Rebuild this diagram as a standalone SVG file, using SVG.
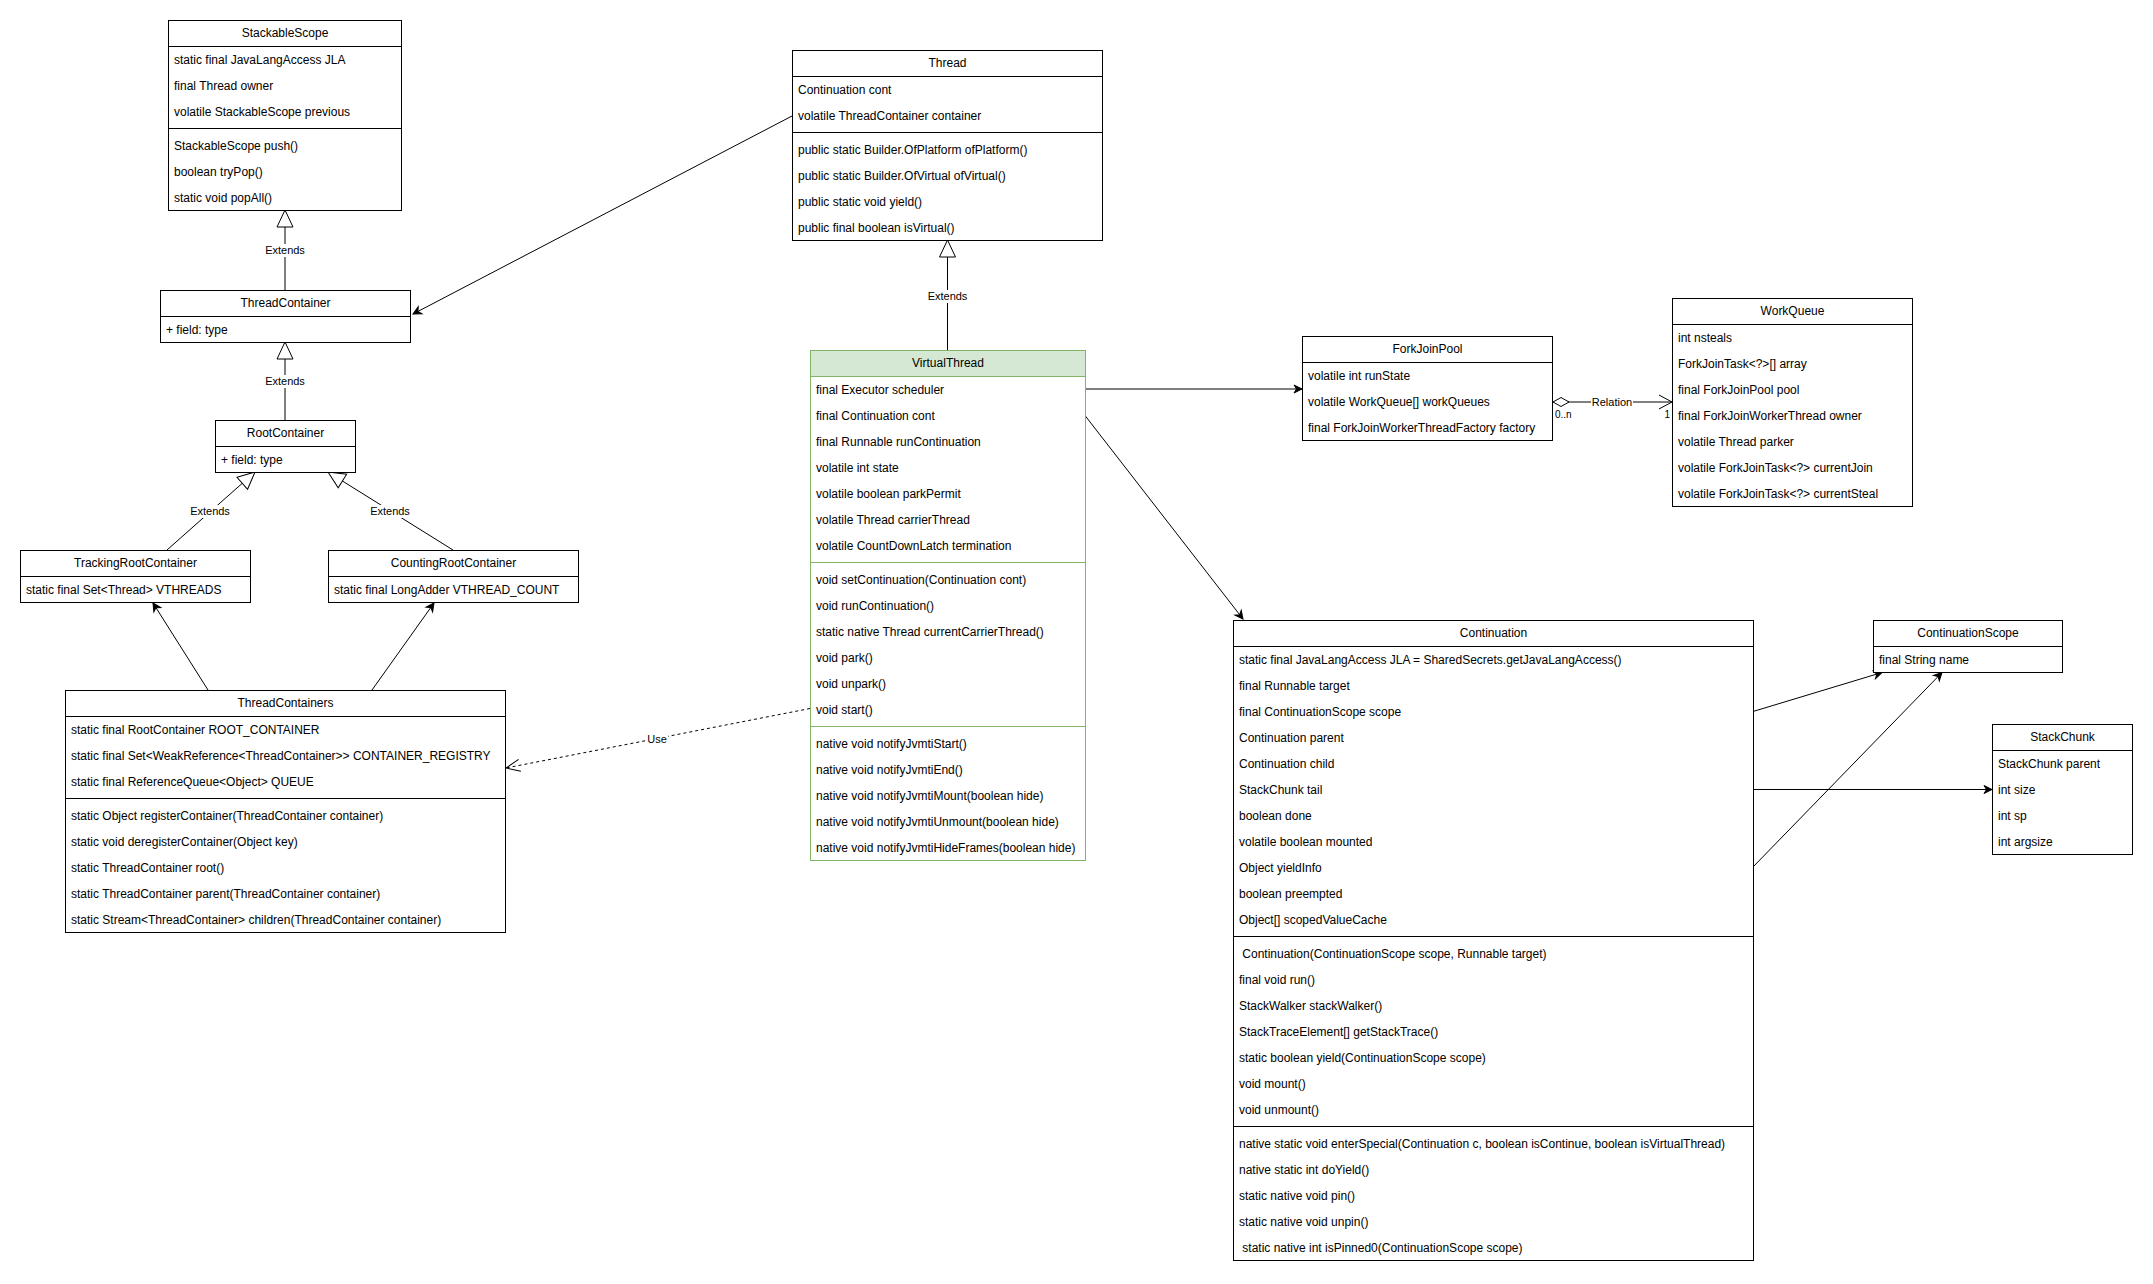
<svg xmlns="http://www.w3.org/2000/svg" width="2153" height="1284" viewBox="0 0 2153 1284">
<style>
text{font-family:"Liberation Sans",Arial,Helvetica,sans-serif;font-size:12px;fill:#000}
.c{text-anchor:middle}
.e{text-anchor:end}
.box{fill:#fff;stroke:#000;stroke-width:1}
.sep{stroke:#000;stroke-width:1}
.vbox{fill:#fff;stroke:#82b366;stroke-width:1}
.vhdr{fill:#d5e8d4;stroke:#82b366;stroke-width:1}
.vsep{stroke:#82b366;stroke-width:1}
.ln{fill:none;stroke:#000;stroke-width:1}
.dash{stroke-dasharray:3 3}
.lbl{font-size:11px;text-anchor:middle}
.mult{font-size:10px}
.bg{fill:#fff;stroke:none}
</style>
<defs>
<marker id="tri" markerUnits="userSpaceOnUse" orient="auto" viewBox="-19 -10 21 20" markerWidth="21" markerHeight="20" refX="0" refY="0"><path d="M0,0 L-17,-8 L-17,8 Z" fill="#fff" stroke="#000" stroke-width="1"/></marker>
<marker id="arr" markerUnits="userSpaceOnUse" orient="auto" viewBox="-10 -6 12 12" markerWidth="12" markerHeight="12" refX="0" refY="0"><path d="M0,0 L-8,-4 L-5.5,0 L-8,4 Z" fill="#000" stroke="#000" stroke-width="1"/></marker>
<marker id="open" markerUnits="userSpaceOnUse" orient="auto" viewBox="-16 -9 18 18" markerWidth="18" markerHeight="18" refX="0" refY="0"><path d="M-14,-6 L0,0 L-14,6" fill="none" stroke="#000" stroke-width="1"/></marker>
<marker id="open2" markerUnits="userSpaceOnUse" orient="auto" viewBox="-16 -9 18 18" markerWidth="18" markerHeight="18" refX="0" refY="0"><path d="M-13,-7 L0,0 L-13,7" fill="none" stroke="#000" stroke-width="1"/></marker>
<marker id="dia" markerUnits="userSpaceOnUse" orient="auto" viewBox="-2 -7 20 14" markerWidth="20" markerHeight="14" refX="0" refY="0"><path d="M0,0 L8,-4.5 L16,0 L8,4.5 Z" fill="#fff" stroke="#000" stroke-width="1"/></marker>
</defs>

<g id="connectors">
<path class="ln" d="M285,290 L285,210" marker-end="url(#tri)"/>
<rect class="bg" x="265" y="244" width="40" height="13"/>
<text class="lbl" x="285" y="254">Extends</text>
<path class="ln" d="M285,420 L285,342" marker-end="url(#tri)"/>
<rect class="bg" x="265" y="375" width="40" height="13"/>
<text class="lbl" x="285" y="385">Extends</text>
<path class="ln" d="M167,550 L255,472" marker-end="url(#tri)"/>
<rect class="bg" x="190" y="505" width="40" height="13"/>
<text class="lbl" x="210" y="515">Extends</text>
<path class="ln" d="M453,550 L328,472" marker-end="url(#tri)"/>
<rect class="bg" x="370" y="505" width="40" height="13"/>
<text class="lbl" x="390" y="515">Extends</text>
<path class="ln" d="M208,690 L153,603" marker-end="url(#arr)"/>
<path class="ln" d="M372,690 L434,603" marker-end="url(#arr)"/>
<path class="ln" d="M792,116 L413,314" marker-end="url(#arr)"/>
<path class="ln" d="M947.5,350 L947.5,240" marker-end="url(#tri)"/>
<rect class="bg" x="927" y="290" width="41" height="13"/>
<text class="lbl" x="947.5" y="300">Extends</text>
<path class="ln" d="M1085,389 L1302,389" marker-end="url(#arr)"/>
<path class="ln" d="M1085,415.5 L1243,619" marker-end="url(#arr)"/>
<path class="ln dash" d="M810,708.5 L506,768" marker-end="url(#open)"/>
<rect class="bg" x="646" y="733" width="22" height="13"/>
<text class="lbl" x="657" y="743">Use</text>
<path class="ln" d="M1553,402 L1672,402" marker-start="url(#dia)" marker-end="url(#open2)"/>
<rect class="bg" x="1591" y="396" width="42" height="13"/>
<text class="lbl" x="1612" y="406">Relation</text>
<text class="mult" x="1555" y="418">0..n</text>
<text class="mult e" x="1670" y="418">1</text>
<path class="ln" d="M1753,711.5 L1882,672.5" marker-end="url(#arr)"/>
<path class="ln" d="M1753,789.5 L1992,789.5" marker-end="url(#arr)"/>
<path class="ln" d="M1753,867 L1942,672.5" marker-end="url(#arr)"/>
</g>

<g id="StackableScope">
<rect class="box" x="168.5" y="20.5" width="233" height="190"/>
<line class="sep" x1="168.5" y1="46.5" x2="401.5" y2="46.5"/>
<line class="sep" x1="168.5" y1="128.5" x2="401.5" y2="128.5"/>
<text class="c" x="285" y="37">StackableScope</text>
<text x="174" y="64">static final JavaLangAccess JLA</text>
<text x="174" y="90">final Thread owner</text>
<text x="174" y="116">volatile StackableScope previous</text>
<text x="174" y="150">StackableScope push()</text>
<text x="174" y="176">boolean tryPop()</text>
<text x="174" y="202">static void popAll()</text>
</g>

<g id="ThreadContainer">
<rect class="box" x="160.5" y="290.5" width="250" height="52"/>
<line class="sep" x1="160.5" y1="316.5" x2="410.5" y2="316.5"/>
<text class="c" x="285.5" y="307">ThreadContainer</text>
<text x="166" y="334">+ field: type</text>
</g>

<g id="RootContainer">
<rect class="box" x="215.5" y="420.5" width="140" height="52"/>
<line class="sep" x1="215.5" y1="446.5" x2="355.5" y2="446.5"/>
<text class="c" x="285.5" y="437">RootContainer</text>
<text x="221" y="464">+ field: type</text>
</g>

<g id="TrackingRootContainer">
<rect class="box" x="20.5" y="550.5" width="230" height="52"/>
<line class="sep" x1="20.5" y1="576.5" x2="250.5" y2="576.5"/>
<text class="c" x="135.5" y="567">TrackingRootContainer</text>
<text x="26" y="594">static final Set&lt;Thread&gt; VTHREADS</text>
</g>

<g id="CountingRootContainer">
<rect class="box" x="328.5" y="550.5" width="250" height="52"/>
<line class="sep" x1="328.5" y1="576.5" x2="578.5" y2="576.5"/>
<text class="c" x="453.5" y="567">CountingRootContainer</text>
<text x="334" y="594">static final LongAdder VTHREAD_COUNT</text>
</g>

<g id="ThreadContainers">
<rect class="box" x="65.5" y="690.5" width="440" height="242"/>
<line class="sep" x1="65.5" y1="716.5" x2="505.5" y2="716.5"/>
<line class="sep" x1="65.5" y1="798.5" x2="505.5" y2="798.5"/>
<text class="c" x="285.5" y="707">ThreadContainers</text>
<text x="71" y="734">static final RootContainer ROOT_CONTAINER</text>
<text x="71" y="760">static final Set&lt;WeakReference&lt;ThreadContainer&gt;&gt; CONTAINER_REGISTRY</text>
<text x="71" y="786">static final ReferenceQueue&lt;Object&gt; QUEUE</text>
<text x="71" y="820">static Object registerContainer(ThreadContainer container)</text>
<text x="71" y="846">static void deregisterContainer(Object key)</text>
<text x="71" y="872">static ThreadContainer root()</text>
<text x="71" y="898">static ThreadContainer parent(ThreadContainer container)</text>
<text x="71" y="924">static Stream&lt;ThreadContainer&gt; children(ThreadContainer container)</text>
</g>

<g id="Thread">
<rect class="box" x="792.5" y="50.5" width="310" height="190"/>
<line class="sep" x1="792.5" y1="76.5" x2="1102.5" y2="76.5"/>
<line class="sep" x1="792.5" y1="132.5" x2="1102.5" y2="132.5"/>
<text class="c" x="947.5" y="67">Thread</text>
<text x="798" y="94">Continuation cont</text>
<text x="798" y="120">volatile ThreadContainer container</text>
<text x="798" y="154">public static Builder.OfPlatform ofPlatform()</text>
<text x="798" y="180">public static Builder.OfVirtual ofVirtual()</text>
<text x="798" y="206">public static void yield()</text>
<text x="798" y="232">public final boolean isVirtual()</text>
</g>

<g id="VirtualThread">
<rect class="vbox" x="810.5" y="350.5" width="275" height="510"/>
<rect class="vhdr" x="810.5" y="350.5" width="275" height="26"/>
<line class="vsep" x1="810.5" y1="562.5" x2="1085.5" y2="562.5"/>
<line class="vsep" x1="810.5" y1="726.5" x2="1085.5" y2="726.5"/>
<text class="c" x="948" y="367">VirtualThread</text>
<text x="816" y="394">final Executor scheduler</text>
<text x="816" y="420">final Continuation cont</text>
<text x="816" y="446">final Runnable runContinuation</text>
<text x="816" y="472">volatile int state</text>
<text x="816" y="498">volatile boolean parkPermit</text>
<text x="816" y="524">volatile Thread carrierThread</text>
<text x="816" y="550">volatile CountDownLatch termination</text>
<text x="816" y="584">void setContinuation(Continuation cont)</text>
<text x="816" y="610">void runContinuation()</text>
<text x="816" y="636">static native Thread currentCarrierThread()</text>
<text x="816" y="662">void park()</text>
<text x="816" y="688">void unpark()</text>
<text x="816" y="714">void start()</text>
<text x="816" y="748">native void notifyJvmtiStart()</text>
<text x="816" y="774">native void notifyJvmtiEnd()</text>
<text x="816" y="800">native void notifyJvmtiMount(boolean hide)</text>
<text x="816" y="826">native void notifyJvmtiUnmount(boolean hide)</text>
<text x="816" y="852">native void notifyJvmtiHideFrames(boolean hide)</text>
</g>

<g id="ForkJoinPool">
<rect class="box" x="1302.5" y="336.5" width="250" height="104"/>
<line class="sep" x1="1302.5" y1="362.5" x2="1552.5" y2="362.5"/>
<text class="c" x="1427.5" y="353">ForkJoinPool</text>
<text x="1308" y="380">volatile int runState</text>
<text x="1308" y="406">volatile WorkQueue[] workQueues</text>
<text x="1308" y="432">final ForkJoinWorkerThreadFactory factory</text>
</g>

<g id="WorkQueue">
<rect class="box" x="1672.5" y="298.5" width="240" height="208"/>
<line class="sep" x1="1672.5" y1="324.5" x2="1912.5" y2="324.5"/>
<text class="c" x="1792.5" y="315">WorkQueue</text>
<text x="1678" y="342">int nsteals</text>
<text x="1678" y="368">ForkJoinTask&lt;?&gt;[] array</text>
<text x="1678" y="394">final ForkJoinPool pool</text>
<text x="1678" y="420">final ForkJoinWorkerThread owner</text>
<text x="1678" y="446">volatile Thread parker</text>
<text x="1678" y="472">volatile ForkJoinTask&lt;?&gt; currentJoin</text>
<text x="1678" y="498">volatile ForkJoinTask&lt;?&gt; currentSteal</text>
</g>

<g id="Continuation">
<rect class="box" x="1233.5" y="620.5" width="520" height="640"/>
<line class="sep" x1="1233.5" y1="646.5" x2="1753.5" y2="646.5"/>
<line class="sep" x1="1233.5" y1="936.5" x2="1753.5" y2="936.5"/>
<line class="sep" x1="1233.5" y1="1126.5" x2="1753.5" y2="1126.5"/>
<text class="c" x="1493.5" y="637">Continuation</text>
<text x="1239" y="664">static final JavaLangAccess JLA = SharedSecrets.getJavaLangAccess()</text>
<text x="1239" y="690">final Runnable target</text>
<text x="1239" y="716">final ContinuationScope scope</text>
<text x="1239" y="742">Continuation parent</text>
<text x="1239" y="768">Continuation child</text>
<text x="1239" y="794">StackChunk tail</text>
<text x="1239" y="820">boolean done</text>
<text x="1239" y="846">volatile boolean mounted</text>
<text x="1239" y="872">Object yieldInfo</text>
<text x="1239" y="898">boolean preempted</text>
<text x="1239" y="924">Object[] scopedValueCache</text>
<text x="1239" y="958" xml:space="preserve"> Continuation(ContinuationScope scope, Runnable target)</text>
<text x="1239" y="984">final void run()</text>
<text x="1239" y="1010">StackWalker stackWalker()</text>
<text x="1239" y="1036">StackTraceElement[] getStackTrace()</text>
<text x="1239" y="1062">static boolean yield(ContinuationScope scope)</text>
<text x="1239" y="1088">void mount()</text>
<text x="1239" y="1114">void unmount()</text>
<text x="1239" y="1148">native static void enterSpecial(Continuation c, boolean isContinue, boolean isVirtualThread)</text>
<text x="1239" y="1174">native static int doYield()</text>
<text x="1239" y="1200">static native void pin()</text>
<text x="1239" y="1226">static native void unpin()</text>
<text x="1239" y="1252" xml:space="preserve"> static native int isPinned0(ContinuationScope scope)</text>
</g>

<g id="ContinuationScope">
<rect class="box" x="1873.5" y="620.5" width="189" height="52"/>
<line class="sep" x1="1873.5" y1="646.5" x2="2062.5" y2="646.5"/>
<text class="c" x="1968" y="637">ContinuationScope</text>
<text x="1879" y="664">final String name</text>
</g>

<g id="StackChunk">
<rect class="box" x="1992.5" y="724.5" width="140" height="130"/>
<line class="sep" x1="1992.5" y1="750.5" x2="2132.5" y2="750.5"/>
<text class="c" x="2062.5" y="741">StackChunk</text>
<text x="1998" y="768">StackChunk parent</text>
<text x="1998" y="794">int size</text>
<text x="1998" y="820">int sp</text>
<text x="1998" y="846">int argsize</text>
</g>
</svg>
